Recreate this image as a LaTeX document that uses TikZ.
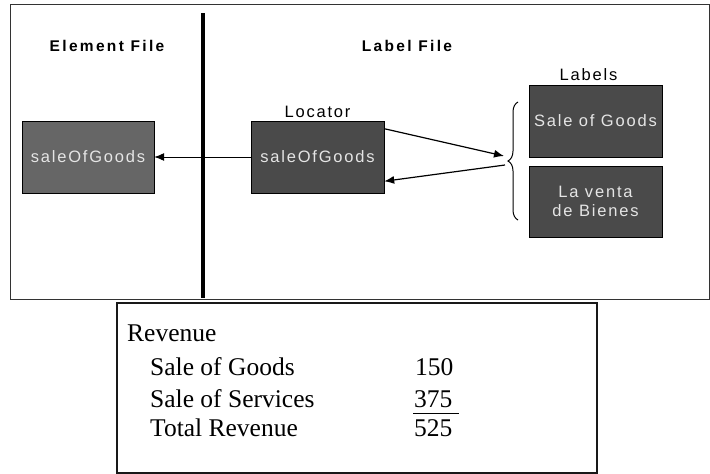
\documentclass[tikz,border=0pt]{standalone}
\usepackage{fontspec}
\setmainfont{Liberation Serif}
\newfontfamily\boxfont[LetterSpace=11]{Liberation Sans}
\newfontfamily\titlefont[LetterSpace=15]{Liberation Sans}
\usetikzlibrary{positioning, arrows.meta, decorations.pathreplacing}

\tikzset{
  filebox/.style={draw=black, inner sep=0pt, minimum width=133pt, minimum height=72pt,
    text=white!90!black, font=\boxfont\fontsize{16.5}{19}\selectfont, align=center},
  filetitle/.style={font=\titlefont\bfseries\fontsize{15.5}{18}\selectfont},
  tag/.style={font=\boxfont\fontsize{16.5}{19}\selectfont, inner sep=1pt},
  revtext/.style={anchor=base west, inner sep=0pt, font=\fontsize{25.5}{29}\selectfont},
  link/.style={-{Latex[length=10pt,width=8pt]}, line width=1.2pt}
}

\begin{document}
\begin{tikzpicture}[x=1pt, y=-1pt]
  \useasboundingbox (0,0) rectangle (710,474);
  \fill[white] (0,0) rectangle (710,474);

  % upper frame with the two files
  \draw[black!80, line width=1pt] (10,4) rectangle (709,299);
  \draw[line width=4pt] (203,13) -- (203,298);

  \node[filetitle] (eltitle) at (107,46) {Element File};
  \node[filetitle] (lbtitle) at (407,46) {Label File};

  \node[filebox, fill=black!60, minimum width=132pt] (elem) at (88,157) {saleOfGoods};
  \node[filebox, fill=black!71] (loc) at (317.5,157) {saleOfGoods};
  \node[tag, above=2pt of loc] (loctitle) {Locator};

  \node[filebox, fill=black!71] (lab1) at (595.5,121) {Sale of Goods};
  \node[filebox, fill=black!71, minimum height=71pt] (lab2) at (595.5,201.5) {La venta\\de Bienes};
  \node[tag, above=3pt of lab1, xshift=-7pt] (labtitle) {Labels};

  \draw[decorate, decoration={brace, amplitude=10pt}, line width=1pt]
    (518,220) -- (518,102);
  \coordinate (bin) at (504,156);
  \coordinate (bout) at (505,165);

  \draw[link, line width=0.9pt] (loc.west) -- (elem.east);
  \draw[link] (loc.23) -- (bin);
  \draw[link] (bout) -- (loc.-20);

  % income statement
  \draw[black!90, line width=2pt] (117,303) rectangle (597,473);
  \node[revtext] (rev) at (127,341) {Revenue};
  \node[revtext] (goods) at (150,375) {Sale of Goods};
  \node[revtext] (serv) at (150,407) {Sale of Services};
  \node[revtext] (total) at (150,436) {Total Revenue};
  \node[revtext] (n150) at (415,375) {150};
  \node[revtext] (n375) at (414,407) {375};
  \node[revtext] (n525) at (414,436) {525};
  \draw[line width=1pt] (413,413) -- (459,413);
\end{tikzpicture}
\end{document}
